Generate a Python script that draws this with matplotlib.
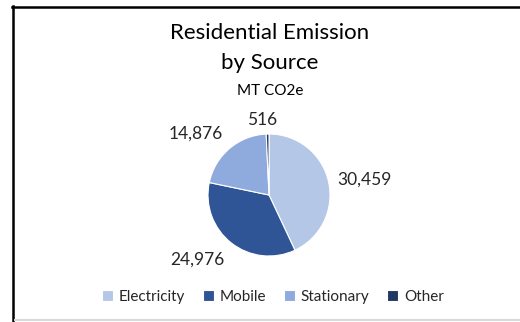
import matplotlib
matplotlib.use("Agg")
import matplotlib.pyplot as plt
from matplotlib.lines import Line2D

plt.rcParams['font.family'] = ['Lato', 'DejaVu Sans']

categories = ["Electricity", "Mobile", "Stationary", "Other"]
values = [30459, 24976, 14876, 516]
colors = ["#B4C7E7", "#2F5597", "#8FAADC", "#1F3864"]

W, H = 520, 322
fig = plt.figure(figsize=(W / 100, H / 100), dpi=100)
ax = fig.add_axes([0, 0, 1, 1])

# pie in pixel units (y measured from bottom)
cx, cy, r = 269, H - 195, 61
wedges, texts = ax.pie(values, colors=colors, startangle=90, counterclock=False,
                       center=(cx, cy), radius=r,
                       labels=[f"{v:,}" for v in values], labeldistance=1.5,
                       wedgeprops=dict(edgecolor="white", linewidth=0.8),
                       textprops=dict(fontsize=12.5, color="#262626"))
ax.set_xlim(0, W)
ax.set_ylim(0, H)
ax.axis("off")

# data label spots, like Excel's best fit
label_pos = [(365, 180), (197, 260), (196, 134), (262, 120)]
for t, (x, y) in zip(texts, label_pos):
    t.set_position((x, H - y))
    t.set_ha("center")
    t.set_va("center")

ax.text(270, H - 33, "Residential Emission", ha="center", va="center", fontsize=16, color="#000000")
ax.text(270, H - 63, "by Source", ha="center", va="center", fontsize=16, color="#000000")
ax.text(270, H - 91, "MT CO2e", ha="center", va="center", fontsize=11, color="#000000")

leg = fig.legend(wedges, categories, loc="center", bbox_to_anchor=(273 / W, 1 - 297 / H),
                 ncol=4, frameon=False, fontsize=11, handlelength=0.7, handleheight=0.7,
                 handletextpad=0.4, columnspacing=1.15, labelcolor="#262626")

# frame edges of the cropped chart
fig.add_artist(Line2D([12 / W, 1], [1 - 7 / H] * 2, color="black", lw=1.8, transform=fig.transFigure))
fig.add_artist(Line2D([13 / W] * 2, [0, 1 - 6 / H], color="black", lw=1.8, transform=fig.transFigure))
fig.add_artist(Line2D([15 / W, 1], [1 - 320 / H] * 2, color="#d9d9d9", lw=1.5, transform=fig.transFigure))

fig.savefig("out.png", dpi=100, facecolor="white")
